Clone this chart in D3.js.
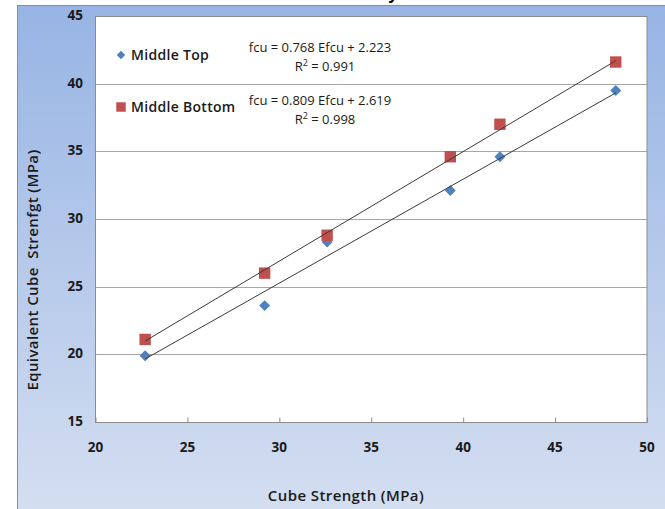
<!DOCTYPE html>
<html>
<head>
<meta charset="utf-8">
<script src="https://cdn.jsdelivr.net/npm/d3@7"></script>
<style>
  html, body { margin: 0; padding: 0; background: #fff; }
  svg { display: block; font-family: "Open Sans", "Noto Sans", sans-serif; }
</style>
</head>
<body>
<div id="container"></div>
<script>
// values
const cubeStrength = [22.7, 29.2, 32.6, 39.3, 42.0, 48.3];
const middleTop = [19.9, 23.6, 28.3, 32.1, 34.6, 39.5];
const middleBottom = [21.1, 26.0, 28.8, 34.6, 37.0, 41.6];
const seriesNames = ['Middle Top', 'Middle Bottom'];
const slopes = [0.768, 0.809];
const intercepts = [2.223, 2.619];
const r2Values = ['0.991', '0.998'];
const xTicks = [20, 25, 30, 35, 40, 45, 50];
const yTicks = [15, 20, 25, 30, 35, 40, 45];

const width = 665, height = 509;
const plot = { left: 95.5, right: 647, top: 16, bottom: 422 };

const svg = d3.select('#container').append('svg')
    .attr('width', width)
    .attr('height', height);

const defs = svg.append('defs');
const grad = defs.append('linearGradient')
    .attr('id', 'bg')
    .attr('x1', 0).attr('y1', 0).attr('x2', 0).attr('y2', 1);
grad.append('stop').attr('offset', '0%').attr('stop-color', '#97b4e4');
grad.append('stop').attr('offset', '100%').attr('stop-color', '#dfe6f3');

// the cut-off chart title above the panel (only its descender shows)
svg.append('text')
    .attr('x', 393)
    .attr('y', -1)
    .attr('text-anchor', 'middle')
    .style('font-size', '16px')
    .style('font-weight', 'bold')
    .attr('fill', '#000')
    .text('y');

// outer chart panel
svg.append('rect')
    .attr('x', 17.5).attr('y', 5.5)
    .attr('width', 700).attr('height', 600)
    .attr('fill', 'url(#bg)')
    .attr('stroke', '#8c8c8c');

const x = d3.scaleLinear().domain([20, 50]).range([plot.left, plot.right]);
const y = d3.scaleLinear().domain([15, 45]).range([plot.bottom, plot.top]);

svg.append('rect')
    .attr('x', plot.left).attr('y', plot.top)
    .attr('width', plot.right - plot.left)
    .attr('height', plot.bottom - plot.top)
    .attr('fill', '#fff');

// gridlines
svg.append('g')
    .selectAll('line')
    .data(yTicks.slice(1, -1))
    .join('line')
    .attr('x1', plot.left).attr('x2', plot.right)
    .attr('y1', d => Math.round(y(d)) + 0.5)
    .attr('y2', d => Math.round(y(d)) + 0.5)
    .attr('stroke', '#a6a6a6');

// plot border
svg.append('rect')
    .attr('x', plot.left).attr('y', plot.top + 0.5)
    .attr('width', plot.right - plot.left)
    .attr('height', plot.bottom - plot.top)
    .attr('fill', 'none')
    .attr('stroke', '#8c8c8c');

// x axis: ticks point up into the plot
const xAxis = d3.axisTop(x)
    .tickValues(xTicks)
    .tickSize(5)
    .tickFormat('');
svg.append('g')
    .attr('transform', `translate(0,${plot.bottom + 0.5})`)
    .call(xAxis)
    .call(g => g.select('.domain').remove())
    .call(g => g.selectAll('line').attr('stroke', '#8c8c8c'));

svg.append('g')
    .selectAll('text')
    .data(xTicks)
    .join('text')
    .attr('x', d => x(d))
    .attr('y', 452)
    .attr('text-anchor', 'middle')
    .style('font-size', '13.5px')
    .style('font-weight', 'bold')
    .attr('fill', '#1a1a1a')
    .text(d => d);

svg.append('g')
    .selectAll('text')
    .data(yTicks)
    .join('text')
    .attr('x', 83)
    .attr('y', d => y(d) + 4)
    .attr('text-anchor', 'end')
    .style('font-size', '13.5px')
    .style('font-weight', 'bold')
    .attr('fill', '#1a1a1a')
    .text(d => d);

// axis titles
svg.append('text')
    .attr('x', 346)
    .attr('y', 501)
    .attr('text-anchor', 'middle')
    .style('font-size', '15px')
    .style('font-weight', '600')
    .style('letter-spacing', '0.4px')
    .attr('fill', '#1a1a1a')
    .text('Cube Strength (MPa)');

svg.append('text')
    .attr('transform', 'translate(38,270) rotate(-90)')
    .attr('text-anchor', 'middle')
    .style('font-size', '15px')
    .style('font-weight', '600')
    .style('letter-spacing', '0.4px')
    .style('white-space', 'pre')
    .attr('fill', '#1a1a1a')
    .text('Equivalent Cube  Strenfgt (MPa)');

const topPts = cubeStrength.map((c, i) => [c, middleTop[i]]);
const botPts = cubeStrength.map((c, i) => [c, middleBottom[i]]);

// Middle Top: diamonds
svg.append('g')
    .selectAll('path')
    .data(topPts)
    .join('path')
    .attr('d', d3.symbol().type(d3.symbolSquare).size(60))
    .attr('transform', d => `translate(${x(d[0])},${y(d[1])}) rotate(45)`)
    .attr('fill', '#4f81bd');

// Middle Bottom: squares
svg.append('g')
    .selectAll('path')
    .data(botPts)
    .join('path')
    .attr('d', d3.symbol().type(d3.symbolSquare).size(130))
    .attr('transform', d => `translate(${x(d[0])},${y(d[1])})`)
    .attr('fill', '#c0504d');

// linear trendlines from the fitted equations
const xMin = d3.min(cubeStrength), xMax = d3.max(cubeStrength);
const line = d3.line().x(d => x(d[0])).y(d => y(d[1]));
slopes.forEach((m, i) => {
    const pts = [xMin, xMax].map(v => [v, m * v + intercepts[i]]);
    svg.append('path')
        .attr('d', line(pts))
        .attr('fill', 'none')
        .attr('stroke', '#3a3a3a')
        .attr('stroke-width', 1);
});

// legend
const legendY = [55, 107];
svg.append('path')
    .attr('transform', `translate(121,${legendY[0]}) rotate(45)`)
    .attr('d', d3.symbol().type(d3.symbolSquare).size(36))
    .attr('fill', '#4f81bd');
svg.append('path')
    .attr('transform', `translate(121,${legendY[1]})`)
    .attr('d', d3.symbol().type(d3.symbolSquare).size(90))
    .attr('fill', '#c0504d');
svg.append('g')
    .selectAll('text')
    .data(seriesNames)
    .join('text')
    .attr('x', 131)
    .attr('y', (d, i) => legendY[i] + 5)
    .style('font-size', '14px')
    .style('font-weight', '600')
    .style('letter-spacing', '0.3px')
    .attr('fill', '#1a1a1a')
    .text(d => d);

// equation labels
const eqY = [52, 105];
slopes.forEach((m, i) => {
    svg.append('text')
        .attr('x', 320)
        .attr('y', eqY[i])
        .attr('text-anchor', 'middle')
        .style('font-size', '13px')
        .style('font-weight', '500')
        .attr('fill', '#1a1a1a')
        .text(`fcu = ${m.toFixed(3)} Efcu + ${intercepts[i].toFixed(3)}`);
    const r = svg.append('text')
        .attr('x', 325)
        .attr('y', eqY[i] + 19)
        .attr('text-anchor', 'middle')
        .style('font-size', '13px')
        .style('font-weight', '500')
        .attr('fill', '#1a1a1a');
    r.append('tspan').text('R');
    r.append('tspan').attr('dy', -5).style('font-size', '9px').text('2');
    r.append('tspan').attr('dy', 5).text(` = ${r2Values[i]}`);
});
</script>
</body>
</html>
